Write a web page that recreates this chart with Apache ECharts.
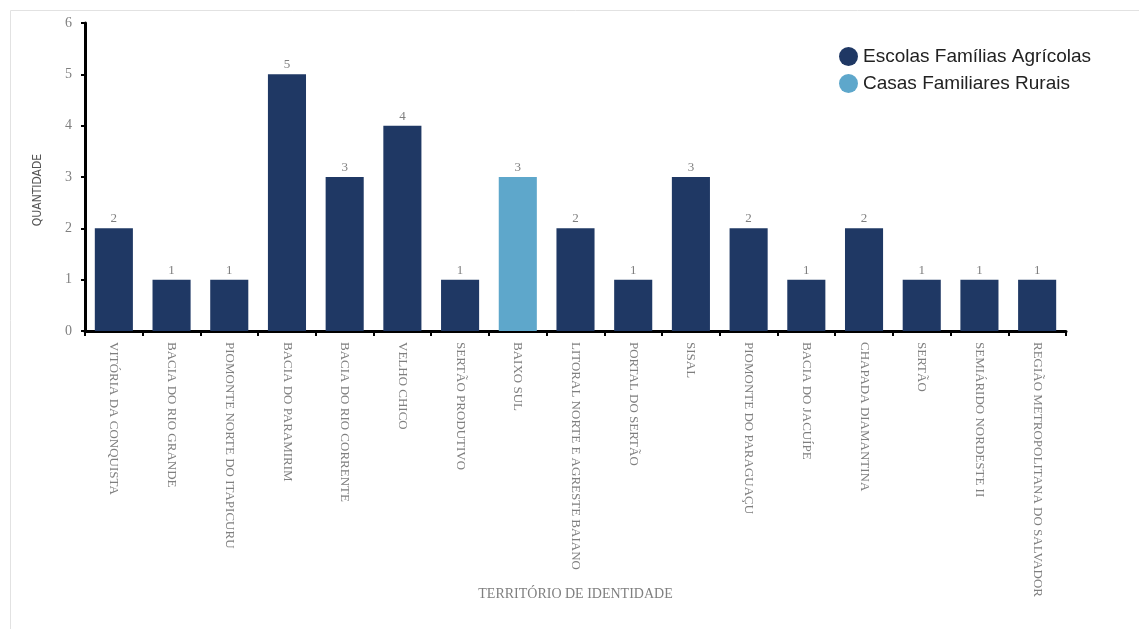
<!DOCTYPE html>
<html>
<head>
<meta charset="utf-8">
<script src="https://cdn.jsdelivr.net/npm/echarts@6/dist/echarts.min.js"></script>
<style>html,body{margin:0;padding:0;background:#fff;}#c{width:1139px;height:629px;}</style>
</head>
<body>
<div id="c"></div>
<script>
const categories = ['VITÓRIA DA CONQUISTA','BACIA DO RIO GRANDE','PIOMONTE NORTE DO ITAPICURU','BACIA DO PARAMIRIM','BACIA DO RIO CORRENTE','VELHO CHICO','SERTÃO PRODUTIVO','BAIXO SUL','LITORAL NORTE E AGRESTE BAIANO','PORTAL DO SERTÃO','SISAL','PIOMONTE DO PARAGUAÇU','BACIA DO JACUÍPE','CHAPADA DIAMANTINA','SERTÃO','SEMIÁRIDO NORDESTE II','REGIÃO METROPOLITANA DO SALVADOR'];
const escolas = [2,1,1,5,3,4,1,'-',2,1,3,2,1,2,1,1,1];
const casas = ['-','-','-','-','-','-','-',3,'-','-','-','-','-','-','-','-','-'];
const yTicks = [0,1,2,3,4,5,6];

const chart = echarts.init(document.getElementById('c'));
const labelStyle = {show:true, position:'top', color:'#7f7f7f', fontFamily:'Liberation Serif', fontSize:13, distance:3};
chart.setOption({
  animation:false,
  graphic:[{type:'rect', shape:{x:10.5,y:10.5,width:1140,height:630}, style:{fill:'none', stroke:'#e2e2e2', lineWidth:1}, silent:true}],
  legend:{
    left:834, top:42, orient:'vertical', itemGap:8, icon:'circle', itemWidth:19, itemHeight:19,
    textStyle:{fontFamily:'Liberation Sans', fontSize:19, color:'#222'},
    data:['Escolas Famílias Agrícolas','Casas Familiares Rurais']
  },
  grid:{left:85, right:73, top:23, bottom:298, containLabel:false},
  xAxis:{
    type:'category', data:categories,
    name:'TERRITÓRIO DE IDENTIDADE', nameLocation:'middle', nameGap:256, nameMoveOverlap:false,
    nameTextStyle:{fontFamily:'Liberation Serif', fontSize:14, color:'#7f7f7f'},
    axisLine:{lineStyle:{color:'#000', width:3}},
    axisTick:{show:true, alignWithLabel:false, length:5, lineStyle:{color:'#000', width:2}},
    axisLabel:{rotate:-90, interval:0, margin:11, color:'#7f7f7f', fontFamily:'Liberation Serif', fontSize:13}
  },
  yAxis:{
    type:'value', min:0, max:6, interval:1,
    name:'QUANTIDADE', nameLocation:'middle', nameGap:41, nameRotate:90,
    nameTextStyle:{fontFamily:'DejaVu Sans Condensed, Liberation Sans', fontSize:12, color:'#555', padding:[0,26,0,0]},
    axisLine:{show:true, lineStyle:{color:'#000', width:3}},
    axisTick:{show:true, length:4, lineStyle:{color:'#000', width:2}},
    splitLine:{show:false},
    axisLabel:{color:'#7f7f7f', fontFamily:'Liberation Serif', fontSize:14, margin:13,
      formatter:function(v){return yTicks.indexOf(v)>=0 ? String(v) : '';}}
  },
  series:[
    {name:'Escolas Famílias Agrícolas', type:'bar', stack:'a', data:escolas, barWidth:'66%',
      itemStyle:{color:'#1f3864'}, label:labelStyle},
    {name:'Casas Familiares Rurais', type:'bar', stack:'a', data:casas, barWidth:'66%',
      itemStyle:{color:'#5ea7cb'}, label:labelStyle}
  ]
});
</script>
</body>
</html>
